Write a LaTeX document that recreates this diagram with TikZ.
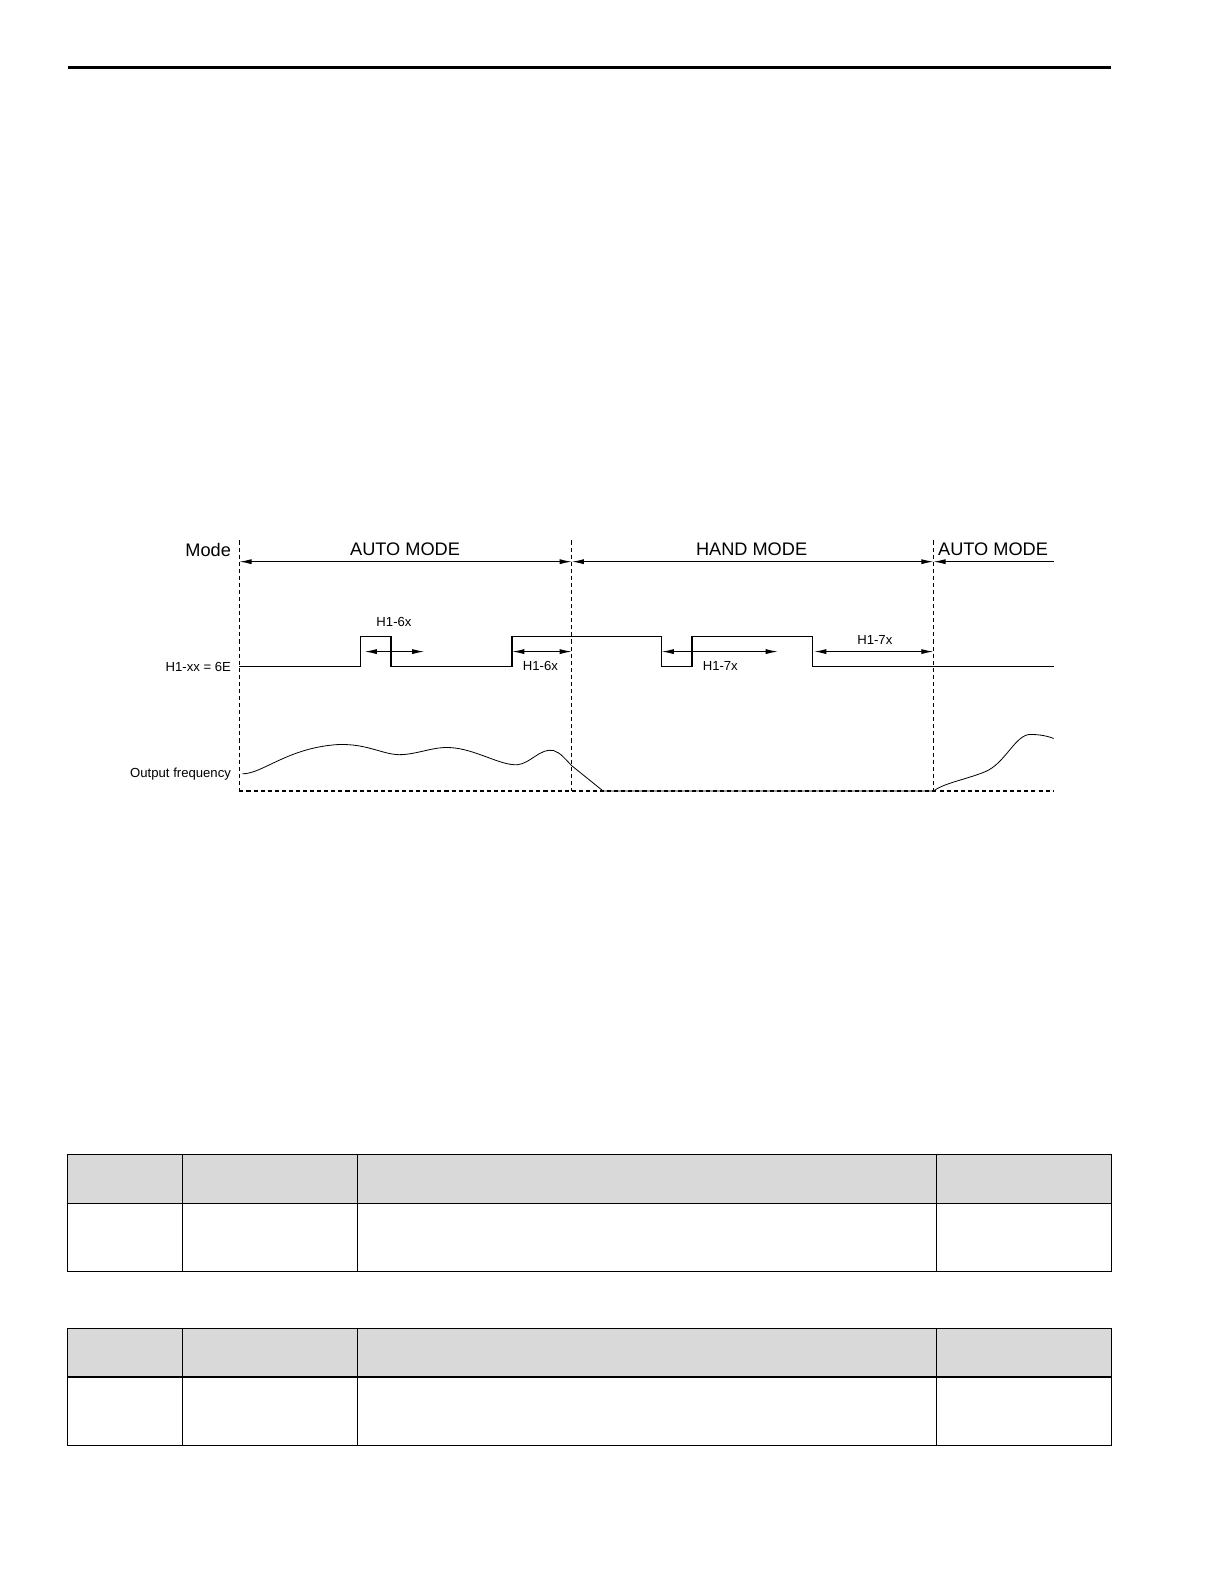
\documentclass[tikz,border=0pt]{standalone}
\usepackage{fontspec}
\setmainfont{Liberation Sans}
\usetikzlibrary{arrows.meta}
\begin{document}
\begin{tikzpicture}[x=0.5pt,y=-0.5pt,
  dim/.style={line width=0.5pt,{Latex[length=6pt,width=2.5pt]}-{Latex[length=6pt,width=2.5pt]}},
  sig/.style={line width=0.7pt},
  guide/.style={line width=0.5pt,dash pattern=on 2pt off 1.5pt},
  big/.style={font=\fontsize{9}{10}\selectfont,inner sep=0pt},
  small/.style={font=\fontsize{6.5}{7}\selectfont,inner sep=0pt},
  hdr/.style={fill=black!15,draw=black,line width=0.5pt}]
\useasboundingbox (0,0) rectangle (1212,1568);
\draw[line width=1.6pt] (67,67) -- (1100,67);
% guides
\foreach \x/\n in {237/ga,566/gb,924/gc}{
  \coordinate (\n t) at (\x,535); \coordinate (\n b) at (\x,783);
  \draw[guide] (\n t) -- (\n b);}
\coordinate (fe) at (1043,783);
\draw[guide] (gab) -- (fe);
% mode arrows
\coordinate (m1) at (237,556); \coordinate (m2) at (566,556);
\coordinate (m3) at (924,556); \coordinate (m4) at (1043,556);
\draw[dim] (m1) -- (m2);
\draw[dim] (m2) -- (m3);
\draw[line width=0.5pt,{Latex[length=6pt,width=2.5pt]}-] (m3) -- (m4);
\node[big,anchor=east] (lm) at (229,544) {Mode};
\node[big] (a1) at (401,544) {AUTO MODE};
\node[big] (h1) at (744,544) {HAND MODE};
\node[big] (a2) at (983,544) {AUTO MODE};
% signal
\draw[sig] (237,660) -- (357,660) -- (357,630) -- (387,630) -- (387,660) -- (507,660) -- (507,630)
  -- (655,630) -- (655,660) -- (685,660) -- (685,630) -- (804,630) -- (804,660) -- (1043,660);
\node[small,anchor=east] (lx) at (229,660) {H1-xx = 6E};
\node[small,anchor=east] (lo) at (229,766) {Output frequency};
\coordinate (d1a) at (361,645); \coordinate (d1b) at (420,645);
\coordinate (d2a) at (507,645); \coordinate (d2b) at (566,645);
\coordinate (d3a) at (655,645); \coordinate (d3b) at (770,645);
\coordinate (d4a) at (806,645); \coordinate (d4b) at (924,645);
\draw[dim] (d1a) -- (d1b);
\draw[dim] (d2a) -- (d2b);
\draw[dim] (d3a) -- (d3b);
\draw[dim] (d4a) -- (d4b);
\node[small] (t1) at (390,616) {H1-6x};
\node[small] (t2) at (535,659) {H1-6x};
\node[small] (t3) at (713,659) {H1-7x};
\node[small] (t4) at (866,634) {H1-7x};
% output frequency curve
\draw[line width=0.4pt] (240,766) .. controls (260,766) and (285,740) .. (335,737)
  .. controls (365,736) and (380,748) .. (398,747)
  .. controls (415,746) and (430,739) .. (445,740)
  .. controls (470,741) and (495,758) .. (512,757)
  .. controls (525,756) and (535,740) .. (548,743)
  .. controls (555,745) and (560,752) .. (566,758) -- (597,783) -- (924,783)
  .. controls (935,775) and (955,772) .. (975,764)
  .. controls (995,756) and (1005,727) .. (1020,727)
  .. controls (1030,727) and (1038,729) .. (1043,731);
% tables
\foreach \y/\n in {1143/ta,1315/tb}{
  \fill[black!15] (67,\y) rectangle (1100,\y+48);
  \draw[line width=0.6pt] (67,\y) rectangle (1100,\y+116);
  \draw[line width=0.6pt] (67,\y+48) -- (1100,\y+48);
  \foreach \c in {181,354,927} \draw[line width=0.6pt] (\c,\y) -- (\c,\y+116);}
\end{tikzpicture}
\end{document}
